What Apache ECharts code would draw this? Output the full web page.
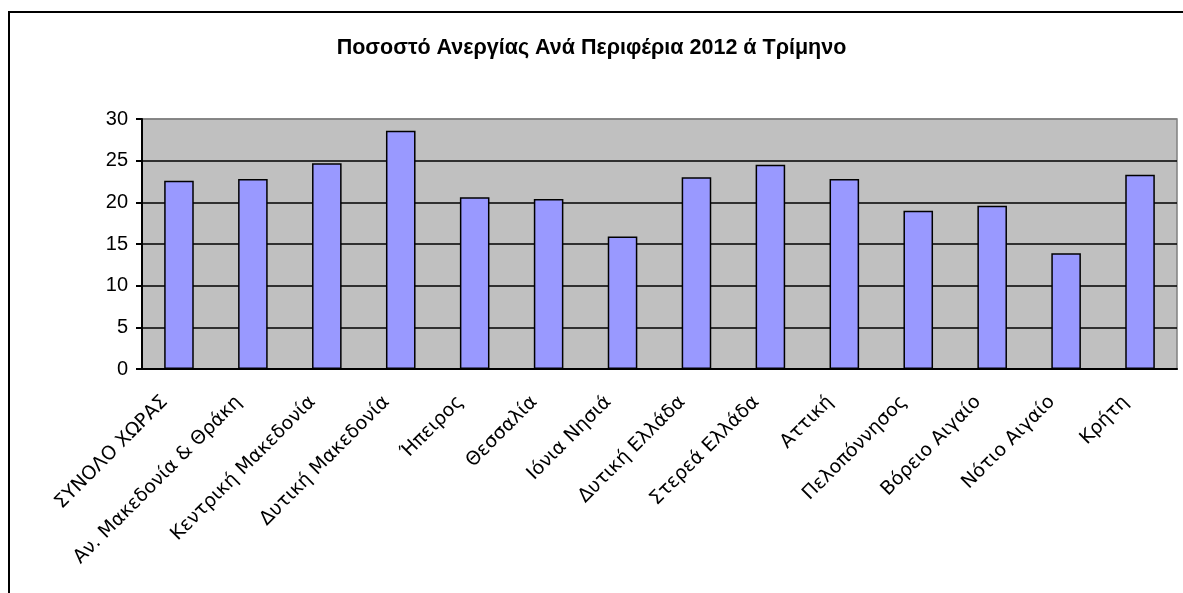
<!DOCTYPE html>
<html>
<head>
<meta charset="utf-8">
<script src="https://cdn.jsdelivr.net/npm/echarts@6/dist/echarts.min.js"></script>
<style>
  html, body { margin: 0; padding: 0; background: #fff; }
  #chart { width: 1183px; height: 593px; }
</style>
</head>
<body>
<div id="chart"></div>
<script>
// regions, first one is the whole country
const regions = [
  'ΣΥΝΟΛΟ ΧΩΡΑΣ', 'Αν. Μακεδονία & Θράκη', 'Κεντρική Μακεδονία', 'Δυτική Μακεδονία',
  'Ήπειρος', 'Θεσσαλία', 'Ιόνια Νησιά', 'Δυτική Ελλάδα', 'Στερεά Ελλάδα', 'Αττική',
  'Πελοπόννησος', 'Βόρειο Αιγαίο', 'Νότιο Αιγαίο', 'Κρήτη'
];
// unemployment %, 2012 Q1
const unemployment = [22.6, 22.8, 24.7, 28.6, 20.6, 20.4, 15.9, 23.0, 24.5, 22.8, 19.0, 19.6, 13.9, 23.3];
const yTicks = [0, 5, 10, 15, 20, 25, 30];

const chart = echarts.init(document.getElementById('chart'));

// gridlines black, except the top one which sits on the grey plot border
const splitColors = yTicks.map((t, i) => (i === yTicks.length - 1 ? '#808080' : '#000'));

chart.setOption({
  animation: false,
  title: {
    text: 'Ποσοστό Ανεργίας Ανά Περιφέρια 2012 ά Τρίμηνο',
    left: 'center',
    top: 32,
    textStyle: { fontFamily: 'Liberation Sans', fontWeight: 'bold', fontSize: 21.5, color: '#000' }
  },
  graphic: [{
    type: 'rect',
    shape: { x: 9, y: 12, width: 1200, height: 620 },
    style: { fill: 'none', stroke: '#000', lineWidth: 2 },
    silent: true
  }],
  grid: {
    left: 142, right: 6, top: 119, bottom: 224,
    show: true, backgroundColor: '#C0C0C0', borderColor: '#808080', borderWidth: 1.5
  },
  xAxis: {
    type: 'category',
    data: regions,
    axisLine: { lineStyle: { color: '#000', width: 2 } },
    axisTick: { length: 6, lineStyle: { color: '#000', width: 2 } },
    axisLabel: {
      rotate: 45, margin: 16, interval: 0, padding: [0, 20, 0, 0],
      fontFamily: 'DejaVu Sans', fontSize: 19, color: '#000'
    }
  },
  yAxis: {
    type: 'value',
    min: 0, max: 30, interval: 5,
    axisLine: { show: true, lineStyle: { color: '#000', width: 2 } },
    axisTick: { show: true, length: 6, lineStyle: { color: '#000', width: 2 } },
    axisLabel: { fontFamily: 'Liberation Sans', fontSize: 20, color: '#000', margin: 14 },
    splitLine: { lineStyle: { color: splitColors, width: 1.5 } }
  },
  series: [{
    type: 'bar',
    data: unemployment,
    barCategoryGap: '60%',
    itemStyle: { color: '#9999FF', borderColor: '#000', borderWidth: 1.5 }
  }]
});
</script>
</body>
</html>
